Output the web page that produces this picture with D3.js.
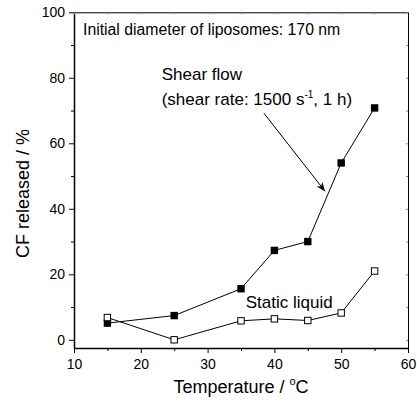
<!DOCTYPE html>
<meta charset="utf-8">
<style>
body { margin: 0; background: #fff; }
svg { font-family: "Liberation Sans", Arial, sans-serif; }
.axis text { font-size: 14px; fill: #000; }
.axis path, .axis line { stroke: #000; }
.line { fill: none; stroke: #000; stroke-width: 1px; }
</style>
<body>
<script src="https://d3js.org/d3.v7.min.js"></script>
<script>

// data
var temperature = [15, 25, 35, 40, 45, 50, 55];
var shearFlow   = [5.1, 7.4, 15.6, 27.3, 30.0, 54.0, 70.8];
var staticLiquid = [6.8, 0.0, 5.8, 6.4, 5.9, 8.2, 21.0];
var xTicks = [10, 20, 30, 40, 50, 60];
var yTicks = [0, 20, 40, 60, 80, 100];

var margin = {top: 12.3, right: 9, bottom: 60, left: 74},
    width = 417 - margin.left - margin.right,
    height = 408 - margin.top - margin.bottom;

var x = d3.scaleLinear().domain([10, 60]).range([0, width]);
var y = d3.scaleLinear().domain([-2.5, 100]).range([height, 0]);

var svg = d3.select("body").append("svg")
    .attr("width", 417)
    .attr("height", 408)
  .append("g")
    .attr("transform", "translate(" + margin.left + "," + margin.top + ")");

var xMinor = d3.range(15, 60, 10);
var yMinor = d3.range(10, 100, 20);

// bottom axis, outward ticks
svg.append("g")
    .attr("class", "axis")
    .attr("transform", "translate(0," + height + ")")
    .call(d3.axisBottom(x).tickValues(xTicks).tickSize(5).tickSizeOuter(0).tickPadding(6))
    .call(function(g) { g.select(".domain").attr("stroke-width", 1.5); });
svg.append("g")
    .attr("transform", "translate(0," + height + ")")
    .call(d3.axisBottom(x).tickValues(xMinor).tickSize(3).tickFormat(""))
    .call(function(g) { g.select(".domain").remove(); });

// left axis
svg.append("g")
    .attr("class", "axis")
    .call(d3.axisLeft(y).tickValues(yTicks).tickSize(5).tickSizeOuter(0).tickPadding(4))
    .call(function(g) { g.select(".domain").attr("stroke-width", 1.5); });
svg.append("g")
    .call(d3.axisLeft(y).tickValues(yMinor).tickSize(3).tickFormat(""))
    .call(function(g) { g.select(".domain").remove(); });

// top and right frame with inside ticks
svg.append("g")
    .call(d3.axisBottom(x).tickValues(xTicks.concat(xMinor)).tickSize(2).tickSizeOuter(0).tickFormat(""))
    .call(function(g) { g.selectAll("line").attr("stroke", "#888"); });
svg.append("g")
    .attr("transform", "translate(" + width + ",0)")
    .call(d3.axisLeft(y).tickValues(yTicks.concat(yMinor)).tickSize(2).tickSizeOuter(0).tickFormat(""))
    .call(function(g) { g.selectAll("line").attr("stroke", "#888"); });

// series
var shearData = temperature.map(function(t, i) { return {t: t, v: shearFlow[i]}; });
var staticData = temperature.map(function(t, i) { return {t: t, v: staticLiquid[i]}; });

var line = d3.line()
    .x(function(d) { return x(d.t); })
    .y(function(d) { return y(d.v); });

svg.append("path").datum(shearData).attr("class", "line").attr("d", line);
svg.append("path").datum(staticData).attr("class", "line").attr("d", line);

var s = 7.4;
svg.selectAll(".shear").data(shearData).enter().append("rect")
    .attr("x", function(d) { return x(d.t) - s / 2; })
    .attr("y", function(d) { return y(d.v) - s / 2; })
    .attr("width", s).attr("height", s)
    .attr("fill", "#000");

svg.selectAll(".static").data(staticData).enter().append("rect")
    .attr("x", function(d) { return x(d.t) - s / 2 + 0.5; })
    .attr("y", function(d) { return y(d.v) - s / 2 + 0.5; })
    .attr("width", s - 1).attr("height", s - 1)
    .attr("fill", "#fff").attr("stroke", "#000").attr("stroke-width", 1);

// annotations
svg.append("text")
    .attr("x", 9).attr("y", 23)
    .style("font-size", "15.8px")
    .text("Initial diameter of liposomes: 170 nm");

svg.append("text")
    .attr("x", 87.7).attr("y", 68)
    .style("font-size", "17px")
    .text("Shear flow");

var t2 = svg.append("text")
    .attr("x", 87.7).attr("y", 93)
    .style("font-size", "17px");
t2.append("tspan").text("(shear rate: 1500 s");
t2.append("tspan").attr("dy", -7).style("font-size", "10px").text("-1");
t2.append("tspan").attr("dy", 7).text(", 1 h)");

svg.append("text")
    .attr("x", 171.7).attr("y", 296)
    .style("font-size", "17px")
    .text("Static liquid");

// arrow
svg.append("defs").append("marker")
    .attr("id", "arrow")
    .attr("viewBox", "0 0 10 10")
    .attr("refX", 10).attr("refY", 5)
    .attr("markerWidth", 9).attr("markerHeight", 9)
    .attr("markerUnits", "userSpaceOnUse")
    .attr("orient", "auto")
  .append("path")
    .attr("d", "M0,1 L10,5 L0,9 L3,5 Z")
    .attr("fill", "#000");

svg.append("line")
    .attr("x1", 190).attr("y1", 101)
    .attr("x2", 251).attr("y2", 179)
    .attr("stroke", "#000").attr("stroke-width", 1)
    .attr("marker-end", "url(#arrow)");

// axis titles
var xt = svg.append("text")
    .attr("x", width / 2).attr("y", 381)
    .attr("text-anchor", "middle")
    .style("font-size", "18px");
xt.append("tspan").text("Temperature / ");
xt.append("tspan").attr("dy", -8).style("font-size", "11px").text("o");
xt.append("tspan").attr("dy", 8).text("C");

svg.append("text")
    .attr("transform", "translate(" + (29 - margin.left) + "," + (193.5 - margin.top) + ") rotate(-90)")
    .attr("text-anchor", "middle")
    .style("font-size", "18px")
    .text("CF released / %");

</script>
</body>
